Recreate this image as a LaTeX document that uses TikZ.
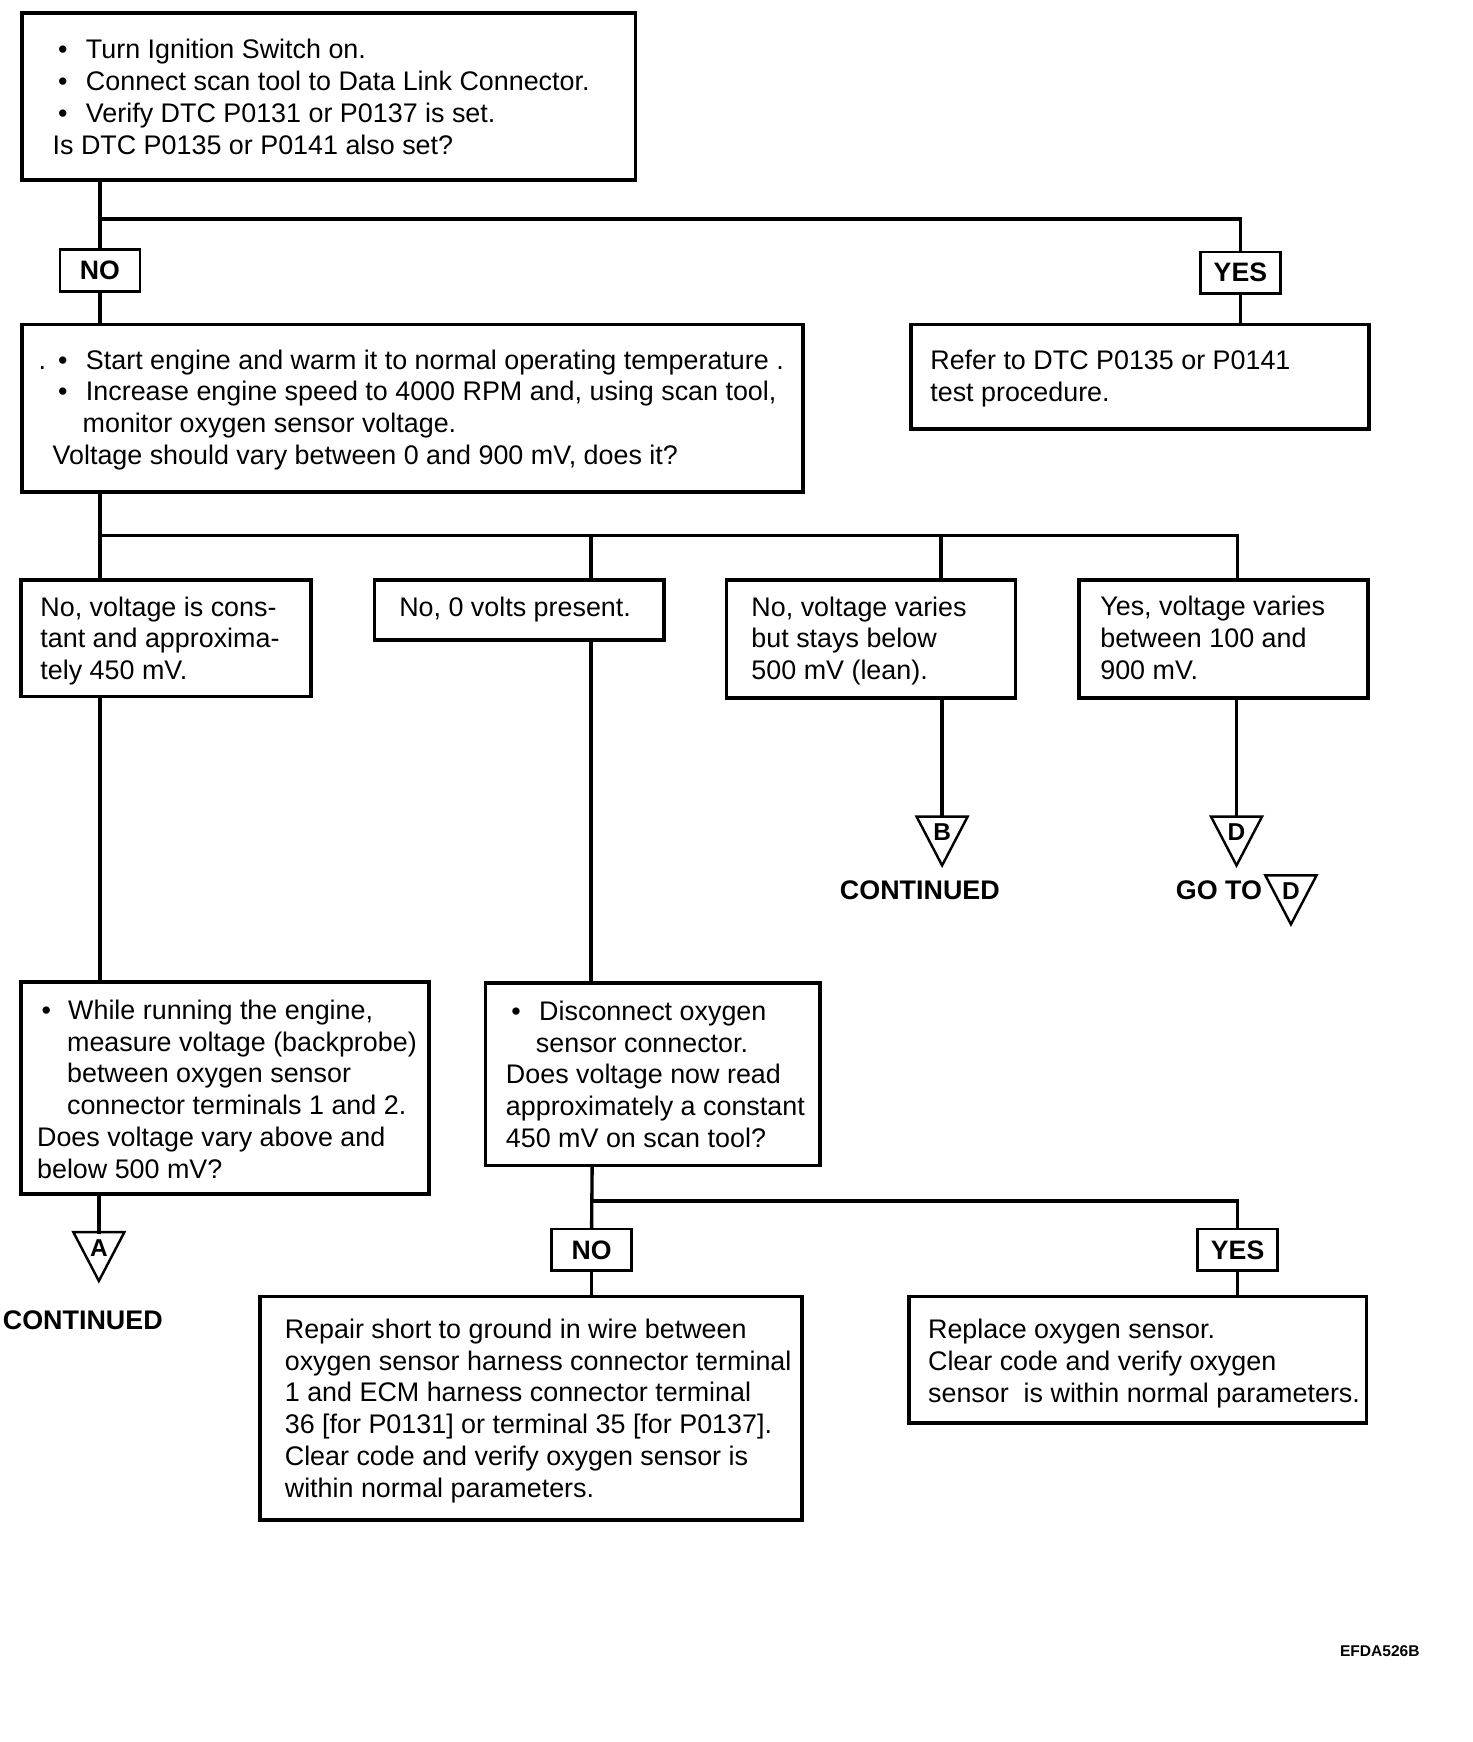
\documentclass[tikz,border=0pt]{standalone}
\usepackage{fontspec}
\setmainfont{Liberation Sans}
\usetikzlibrary{fit}
\newcommand\bul{\makebox[15pt][l]{\hspace*{2.5pt}•}}
\newcommand\bulb{\makebox[14pt][l]{\hspace*{2pt}•}}
\newcommand\ind{\hspace*{13.5pt}}
\newcommand\flowtri[4]{%
  \coordinate (#1) at (#2,#3);
  \draw[tri] (#2-23,#3) -- (#2+23,#3) -- (#2,#3+44) -- cycle;
  \node[trilab] (#1l) at (#2,#3+14) {#4};}
\begin{document}
\begin{tikzpicture}[x=0.5pt,y=-0.5pt,
  box/.style={draw, line width=1.7pt, inner sep=0pt},
  lab/.style={draw, line width=1.2pt, inner sep=0pt, minimum width=36pt, minimum height=18.75pt, font=\bfseries\fontsize{12}{14}\selectfont},
  txt/.style={anchor=west, inner sep=0pt, align=left, font=\fontsize{12.1}{14.35}\selectfont},
  con/.style={line width=1.5pt, line cap=rect},
  tri/.style={line width=1.1pt, line join=miter},
  trilab/.style={inner sep=0pt, font=\bfseries\fontsize{11}{13}\selectfont},
  big/.style={inner sep=0pt, font=\bfseries\fontsize{12.1}{14}\selectfont}]
\path[fill=white] (0,0) rectangle (1325,1568);
\useasboundingbox (0,0) rectangle (1325,1568);

% boxes
\node[box, fit={(20,12)(572,162)}] (b1) {};
\node[box, fit={(20,292)(723,443)}] (b2) {};
\node[box, fit={(820,292)(1232,386)}] (b3) {};
\node[box, fit={(19,522)(280,627)}] (b4a) {};
\node[box, fit={(337,522)(598,576)}] (b4b) {};
\node[box, fit={(654,522)(914,628)}] (b4c) {};
\node[box, fit={(971,522)(1231,628)}] (b4d) {};
\node[box, fit={(19,884)(386,1075)}] (b5a) {};
\node[box, fit={(437,885)(738,1049)}] (b5b) {};
\node[box, fit={(234,1167)(722,1368)}] (b6a) {};
\node[box, fit={(818,1167)(1230,1281)}] (b6b) {};

% labels
\node[lab] (no1) at (90,243.5) {NO};
\node[lab] (yes1) at (1116.5,245.5) {YES};
\node[lab] (no2) at (532.5,1125) {NO};
\node[lab] (yes2) at (1114,1125) {YES};

% texts
\node[txt] (t1) at (47,87.5) {\bul Turn Ignition Switch on.\\ \bul Connect scan tool to Data Link Connector.\\ \bul Verify DTC P0131 or P0137 is set.\\ Is DTC P0135 or P0141 also set?};
\node[txt] (t2) at (47,369) {\makebox[0pt][r]{.\hspace*{3pt}}\bul Start engine and warm it to normal operating temperature .\\ \bul Increase engine speed to 4000 RPM and, using scan tool,\\ \ind monitor oxygen sensor voltage.\\ Voltage should vary between 0 and 900 mV, does it?};
\node[txt] (t3) at (837,341) {Refer to DTC P0135 or P0141\\ test procedure.};
\node[txt] (t4a) at (36,577) {No, voltage is cons-\\ tant and approxima-\\ tely 450 mV.};
\node[txt] (t4b) at (359,548.5) {No, 0 volts present.};
\node[txt] (t4c) at (676,577) {No, voltage varies\\ but stays below\\ 500 mV (lean).};
\node[txt] (t4d) at (990,574.5) {Yes, voltage varies\\ between 100 and\\ 900 mV.};
\node[txt] (t5a) at (33,980.5) {\bulb While running the engine,\\ \ind measure voltage (backprobe)\\ \ind between oxygen sensor\\ \ind connector terminals 1 and 2.\\ Does voltage vary above and\\ below 500 mV?};
\node[txt] (t5b) at (455,967) {\bul Disconnect oxygen\\ \ind sensor connector.\\ Does voltage now read\\ approximately a constant\\ 450 mV on scan tool?};
\node[txt] (t6a) at (256,1270) {Repair short to ground in wire between\\ oxygen sensor harness connector terminal\\ 1 and ECM harness connector terminal\\ 36 [for P0131] or terminal 35 [for P0137].\\ Clear code and verify oxygen sensor is\\ within normal parameters.};
\node[txt] (t6b) at (835,1227) {Replace oxygen sensor.\\ Clear code and verify oxygen\\ sensor\ \ is within normal parameters.};

% triangles
\flowtri{tB}{848}{735}{B}
\flowtri{tD}{1113}{735}{D}
\flowtri{tA}{89}{1109}{A}
\flowtri{tDD}{1162}{788}{D}

\node[big] (c1) at (828,801) {CONTINUED};
\node[big] (c2) at (74.5,1188) {CONTINUED};
\node[big, anchor=west] (goto) at (1058,801) {GO TO};
\node[inner sep=0pt, font=\bfseries\fontsize{7}{8}\selectfont] (code) at (1242,1486) {EFDA526B};

% connectors
\coordinate (j1) at (90,197);
\draw[con] (j1 |- b1.south) -- (no1.north);
\draw[con] (j1) -| (yes1.north);
\draw[con] (no1.south) -- (no1.south |- b2.north);
\draw[con] (yes1.south) -- (yes1.south |- b3.north);

\coordinate (j3) at (90,482);
\coordinate (k2) at (532,482);
\coordinate (k3) at (847,482);
\coordinate (k4) at (1114,482);
\draw[con] (j3 |- b2.south) -- (j3 |- b4a.north);
\draw[con] (j3) -- (k4) -- (k4 |- b4d.north);
\draw[con] (k2) -- (k2 |- b4b.north);
\draw[con] (k3) -- (k3 |- b4c.north);
\draw[con] (k2 |- b4b.south) -- (k2 |- b5b.north);
\draw[con] (j3 |- b4a.south) -- (j3 |- b5a.north);

\draw[con] (tB |- b4c.south) -- (tB);
\draw[con] (tD |- b4d.south) -- (tD);
\draw[con] (tA |- b5a.south) -- (tA);

\coordinate (j5) at (533,1081);
\draw[con] (j5 |- b5b.south) -- (no2.north);
\draw[con] (j5) -| (yes2.north);
\draw[con] (no2.south) -- (no2.south |- b6a.north);
\draw[con] (yes2.south) -- (yes2.south |- b6b.north);
\end{tikzpicture}
\end{document}
